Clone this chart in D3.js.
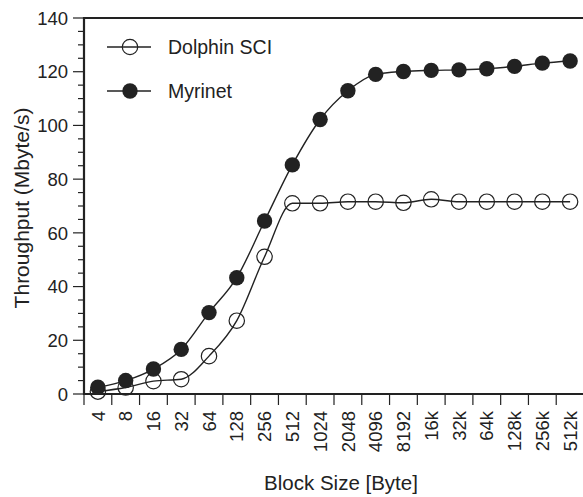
<!DOCTYPE html>
<html>
<head>
<meta charset="utf-8">
<script src="https://cdn.jsdelivr.net/npm/d3@7"></script>
<style>
  body { margin: 0; background: #fff; }
  text { font-family: "Liberation Sans", Arial, sans-serif; fill: #222; }
</style>
</head>
<body>
<script>
// block sizes on the x axis
const blockSizes = ['4','8','16','32','64','128','256','512','1024','2048','4096','8192',
  '16k','32k','64k','128k','256k','512k'];
// throughput values (Mbyte/s)
const dolphinSCI = [0.9, 2.4, 4.8, 5.5, 14.1, 27.3, 51.1, 71.0, 71.0, 71.6, 71.6, 71.2,
  72.5, 71.6, 71.6, 71.6, 71.6, 71.6];
const myrinet = [2.5, 5.0, 9.3, 16.6, 30.3, 43.3, 64.4, 85.3, 102.2, 112.9, 119.0, 120.1,
  120.5, 120.7, 121.1, 122.0, 123.2, 124.0];
const yTicks = [0, 20, 40, 60, 80, 100, 120, 140];

const W = 583, H = 497;
const plotL = 84, plotR = 584, plotT = 18, plotB = 394;
const ink = '#222';
const markR = 7.7;

const svg = d3.select('body').append('svg').attr('width', W).attr('height', H);

const x = d3.scaleBand().domain(blockSizes).range([plotL, plotR]);
const y = d3.scaleLinear().domain([0, 140]).range([plotB, plotT]);

// y axis: major + minor ticks
const yAxis = svg.append('g').attr('transform', `translate(${plotL},0)`);
yAxis.selectAll('line').data(d3.range(0, 141, 5)).join('line')
  .attr('x1', d => d % 20 === 0 ? -11 : -6).attr('x2', 0)
  .attr('y1', d => y(d)).attr('y2', d => y(d))
  .attr('stroke', ink).attr('stroke-width', 1.2);
yAxis.selectAll('text').data(yTicks).join('text')
  .attr('x', -16).attr('y', d => y(d)).attr('dy', '0.36em')
  .attr('text-anchor', 'end').attr('font-size', 18.5).text(d => d);

// x axis ticks between categories
const xAxis = svg.append('g').attr('transform', `translate(0,${plotB})`);
xAxis.selectAll('line').data(blockSizes).join('line')
  .attr('x1', d => x(d)).attr('x2', d => x(d))
  .attr('y1', 0).attr('y2', 11)
  .attr('stroke', ink).attr('stroke-width', 1.2);
xAxis.selectAll('text').data(blockSizes).join('text')
  .attr('transform', d => `translate(${x(d) + x.bandwidth() / 2},17) rotate(-90)`)
  .attr('dy', '0.36em').attr('text-anchor', 'end').attr('font-size', 18.5).text(d => d);

// frame: left, bottom and top
svg.append('path')
  .attr('d', `M${plotR},${plotT}H${plotL}V${plotB}H${plotR}`)
  .attr('fill', 'none').attr('stroke', ink).attr('stroke-width', 2.2);

// titles
svg.append('text').attr('x', 341).attr('y', 490).attr('text-anchor', 'middle')
  .attr('font-size', 20.5).text('Block Size [Byte]');
svg.append('text').attr('transform', `translate(29,208) rotate(-90)`)
  .attr('text-anchor', 'middle').attr('font-size', 21).text('Throughput (Mbyte/s)');

const cx = (d, i) => x(blockSizes[i]) + x.bandwidth() / 2;
const line = d3.line().x(cx).y(d => y(d)).curve(d3.curveMonotoneX);

const series = [
  { name: 'Dolphin SCI', values: dolphinSCI, filled: false },
  { name: 'Myrinet', values: myrinet, filled: true }
];

series.forEach(s => {
  const g = svg.append('g');
  g.append('path').attr('d', line(s.values))
    .attr('fill', 'none').attr('stroke', ink).attr('stroke-width', 1.4);
  g.selectAll('circle').data(s.values).join('circle')
    .attr('cx', cx).attr('cy', d => y(d)).attr('r', markR)
    .attr('fill', s.filled ? ink : 'none')
    .attr('stroke', ink).attr('stroke-width', s.filled ? 0 : 1.2);
});

// legend
const legend = svg.append('g');
series.forEach((s, i) => {
  const ly = 47 + i * 44;
  legend.append('line').attr('x1', 107).attr('x2', 151).attr('y1', ly).attr('y2', ly)
    .attr('stroke', ink).attr('stroke-width', 1.4);
  legend.append('circle').attr('cx', 130).attr('cy', ly).attr('r', markR)
    .attr('fill', s.filled ? ink : 'none')
    .attr('stroke', ink).attr('stroke-width', s.filled ? 0 : 1.2);
  legend.append('text').attr('x', 168).attr('y', ly).attr('dy', '0.36em')
    .attr('font-size', 19.5).text(s.name);
});
</script>
</body>
</html>
